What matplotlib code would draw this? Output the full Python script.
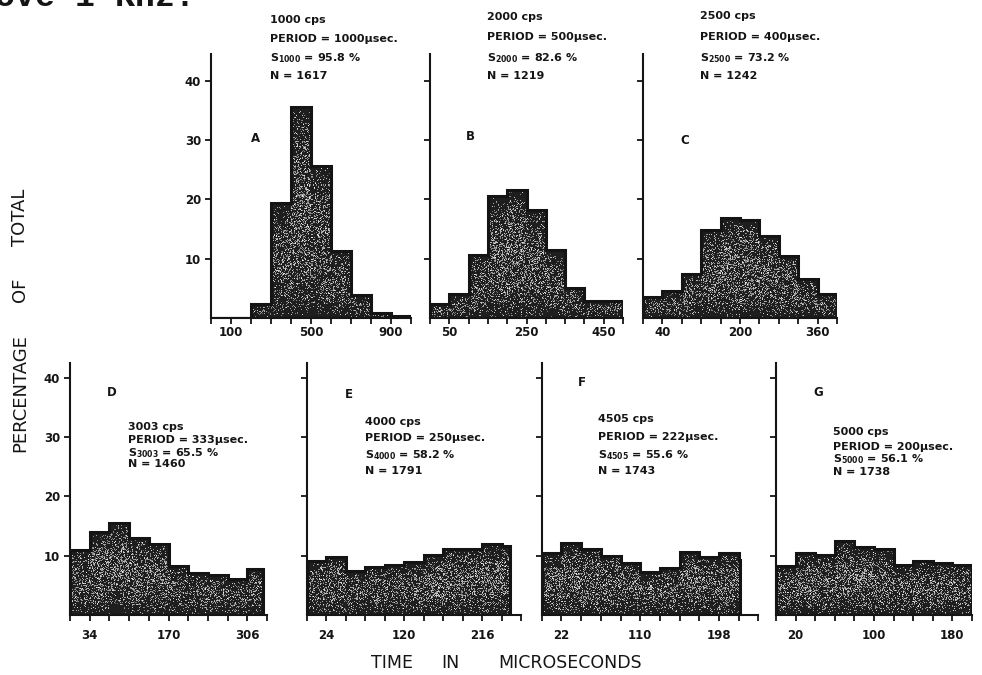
import numpy as np
import matplotlib
matplotlib.use("Agg")
import matplotlib.pyplot as plt
from matplotlib.path import Path
from matplotlib.patches import PathPatch

plt.rcParams['font.family'] = ['DejaVu Sans']
plt.rcParams['mathtext.fontset'] = 'dejavusans'

# ---- data: interval histograms (percentage of total per bin) ----
panel_letters = ["A", "B", "C", "D", "E", "F", "G"]

edges_A = [0, 100, 200, 300, 400, 500, 600, 700, 800, 900, 1000]
pct_A = [0, 0, 2.4, 19.4, 35.6, 25.7, 11.3, 3.8, 0.9, 0.4]

edges_B = [0, 50, 100, 150, 200, 250, 300, 350, 400, 450, 500]
pct_B = [2.3, 4.0, 10.6, 20.5, 21.6, 18.2, 11.4, 5.0, 2.9, 2.9]

edges_C = [0, 40, 80, 120, 160, 200, 240, 280, 320, 360, 400]
pct_C = [3.6, 4.5, 7.5, 14.9, 16.8, 16.6, 13.8, 10.5, 6.5, 4.1]

edges_D = [0, 34, 68, 102, 136, 170, 204, 238, 272, 306, 333]
pct_D = [11.0, 14.0, 15.6, 13.0, 12.0, 8.3, 7.1, 6.7, 6.1, 7.7]

edges_E = [0, 24, 48, 72, 96, 120, 144, 168, 192, 216, 240, 250]
pct_E = [9.1, 9.7, 7.4, 8.1, 8.4, 8.9, 10.1, 11.2, 11.2, 12.0, 11.6]

edges_F = [0, 22, 44, 66, 88, 110, 132, 154, 176, 198, 220, 222]
pct_F = [10.4, 12.2, 11.2, 9.9, 8.7, 7.2, 7.9, 10.6, 9.8, 10.5, 9.3]

edges_G = [0, 20, 40, 60, 80, 100, 120, 140, 160, 180, 200]
pct_G = [8.3, 10.5, 10.1, 12.5, 11.5, 11.1, 8.5, 9.1, 8.8, 8.4]

# tick marks along each time axis and the values that carry a label
ticks_A = list(range(0, 1001, 100)); labeled_A = [100, 500, 900]
ticks_B = list(range(0, 501, 50)); labeled_B = [50, 250, 450]
ticks_C = list(range(0, 401, 40)); labeled_C = [40, 200, 360]
ticks_D = list(range(0, 341, 34)); labeled_D = [34, 170, 306]
ticks_E = list(range(0, 265, 24)); labeled_E = [24, 120, 216]
ticks_F = list(range(0, 243, 22)); labeled_F = [22, 110, 198]
ticks_G = list(range(0, 201, 20)); labeled_G = [20, 100, 180]

y_ticks = [10, 20, 30, 40]

freq_cps = ["1000", "2000", "2500", "3003", "4000", "4505", "5000"]
period_us = ["1000", "500", "400", "333", "250", "222", "200"]
sync_pct = ["95.8", "82.6", "73.2", "65.5", "58.2", "55.6", "56.1"]
n_count = ["1617", "1219", "1242", "1460", "1791", "1743", "1738"]

# ---- layout (figure pixels) ----
W, H = 982, 675
INK = '#151515'

# x0, x1, baseline, top, ymax, x max
layout = [
    (211, 411, 318, 54.1, 44.5, 1000),
    (430, 623, 318, 54.1, 44.5, 500),
    (642.7, 837.3, 318, 54.1, 44.5, 400),
    (70, 267, 615, 363, 42.5, 340),
    (306.7, 521.2, 615, 363, 42.5, 264),
    (541.7, 758.4, 615, 363, 42.5, 242),
    (776, 972, 615, 363, 42.5, 200),
]
# panel letter positions and annotation block (left x, line centres y)
letter_pos = [(255, 138), (470, 137), (685, 140), (112, 393), (349, 394), (582, 383), (818, 393)]
note_x = [270, 487, 700, 128, 365, 598, 833]
note_y = [
    (20, 39, 58, 76), (17, 37, 58, 76), (16, 37, 58, 76),
    (427, 440, 453, 464), (422, 438, 455, 471), (419, 437, 455, 471), (432, 447, 459, 472),
]

all_edges = [edges_A, edges_B, edges_C, edges_D, edges_E, edges_F, edges_G]
all_pct = [pct_A, pct_B, pct_C, pct_D, pct_E, pct_F, pct_G]
all_ticks = [ticks_A, ticks_B, ticks_C, ticks_D, ticks_E, ticks_F, ticks_G]
all_labeled = [labeled_A, labeled_B, labeled_C, labeled_D, labeled_E, labeled_F, labeled_G]

fig = plt.figure(figsize=(W / 100, H / 100), dpi=100)
fig.patch.set_facecolor('white')

rng = np.random.default_rng(7)


def stipple(edges, vals, xmax, ymax, h, w):
    """Light speckles over the dark fill, densest in the middle of each column."""
    xs = (np.arange(w) + 0.5) / w * xmax
    ys = (np.arange(h) + 0.5) / h * ymax
    idx = np.clip(np.searchsorted(edges, xs, side='right') - 1, 0, len(vals) - 1)
    col_h = np.maximum(np.asarray(vals)[idx], 1e-6)
    frac = np.clip(ys[:, None] / col_h[None, :], 0, 1)
    centre = np.clip(np.sin(np.pi * frac), 0, 1) ** 0.7
    # lighter towards the middle of the whole distribution
    mass = np.asarray(vals)[idx] / max(vals)
    p = 0.40 * centre * (0.6 + 0.4 * mass[None, :])
    n = rng.random((h, w))
    on = n < p
    rgba = np.zeros((h, w, 4))
    g = 0.6 + 0.4 * rng.random((h, w))
    rgba[..., 0] = g
    rgba[..., 1] = g
    rgba[..., 2] = g
    rgba[..., 3] = on * (0.5 + 0.5 * rng.random((h, w)))
    return rgba


for i, (x0, x1, yb, yt, ymax, xmax) in enumerate(layout):
    ax = fig.add_axes([x0 / W, 1 - yb / H, (x1 - x0) / W, (yb - yt) / H])
    ax.set_xlim(0, xmax)
    ax.set_ylim(0, ymax)
    ax.set_facecolor('none')
    for s in ('top', 'right'):
        ax.spines[s].set_visible(False)
    for s in ('left', 'bottom'):
        ax.spines[s].set_linewidth(1.5)
        ax.spines[s].set_color(INK)
        ax.spines[s].set_zorder(6)

    edges = np.asarray(all_edges[i], dtype=float)
    vals = np.asarray(all_pct[i], dtype=float)
    widths = np.diff(edges)

    ax.bar(edges[:-1], vals, width=widths, align='edge', color='#1e1e1e',
           edgecolor='none', linewidth=0, zorder=2)

    # stipple clipped to the histogram outline, then the outline itself
    verts = [(edges[0], 0)]
    for k in range(len(vals)):
        verts += [(edges[k], vals[k]), (edges[k + 1], vals[k])]
    verts += [(edges[-1], 0), (edges[0], 0)]
    outline = PathPatch(Path(verts), transform=ax.transData, facecolor='none',
                        edgecolor='#141414', linewidth=2.2, joinstyle='miter', zorder=4)
    ax.add_patch(outline)
    hpx = int(yb - yt)
    wpx = int(x1 - x0)
    img = stipple(edges, vals, xmax, ymax, hpx, wpx)
    im = ax.imshow(img, extent=(0, xmax, 0, ymax), origin='lower', aspect='auto',
                   interpolation='nearest', zorder=3)
    im.set_clip_path(outline)

    # axes ticks
    ticks = all_ticks[i]
    ax.set_xticks(ticks)
    ax.set_xticklabels([str(t) if t in all_labeled[i] else '' for t in ticks])
    ax.set_yticks(y_ticks)
    if i in (0, 3):
        ax.set_yticklabels([str(t) for t in y_ticks])
    else:
        ax.set_yticklabels([])
    xpad = 1.5 if i < 3 else 6
    ax.tick_params(axis='x', direction='out', length=4, width=1.3, color=INK,
                   labelsize=8.5, labelcolor=INK, pad=xpad)
    ax.tick_params(axis='y', direction='out', length=4, width=1.3, color=INK,
                   labelsize=8.5, labelcolor=INK, pad=3)
    for lab in ax.get_xticklabels() + ax.get_yticklabels():
        lab.set_fontweight('bold')

    # panel letter
    lx, ly = letter_pos[i]
    fig.text(lx / W, 1 - ly / H, panel_letters[i], fontsize=8.5, fontweight='bold',
             color=INK, ha='center', va='center')

    # annotation block
    lines = [
        f"{freq_cps[i]} cps",
        f"PERIOD = {period_us[i]}\u00b5sec.",
        r"$\mathbf{S_{" + freq_cps[i] + r"}}$" + f" = {sync_pct[i]} %",
        f"N = {n_count[i]}",
    ]
    for txt, yy in zip(lines, note_y[i]):
        fig.text(note_x[i] / W, 1 - yy / H, txt, fontsize=8, fontweight='bold',
                 color=INK, ha='left', va='center')

# shared axis titles, word by word
for word, yy in (("PERCENTAGE", 393), ("OF", 290), ("TOTAL", 217)):
    fig.text(20 / W, 1 - yy / H, word, rotation=90, fontsize=13,
             color=INK, ha='center', va='center')
for word, xx in (("TIME", 392), ("IN", 450), ("MICROSECONDS", 570)):
    fig.text(xx / W, 1 - 663 / H, word, fontsize=12.5,
             color=INK, ha='center', va='center')

# running text of the page above, cut by the top edge
fig.text(-45 / W, 1 - 6 / H, "above 1 KHz.", fontsize=24, fontweight='bold',
         family='Liberation Mono', color=INK, ha='left', va='baseline')

fig.savefig("out.png", dpi=100, facecolor='white')
